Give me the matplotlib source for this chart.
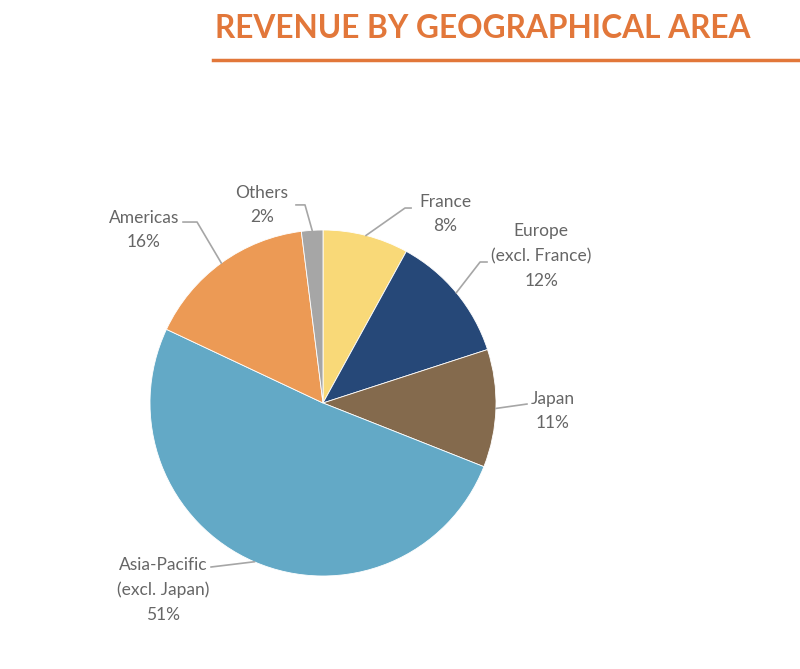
import numpy as np
import matplotlib
matplotlib.use('Agg')
import matplotlib.pyplot as plt

# data
regions = ['France', 'Europe\n(excl. France)', 'Japan', 'Asia-Pacific\n(excl. Japan)', 'Americas', 'Others']
shares = [8, 12, 11, 51, 16, 2]
colors = ['#F9D978', '#264878', '#846A4D', '#63A9C6', '#EC9A55', '#A6A6A6']

# label layout (data units, pie radius = 1): text centre, elbow, line end
label_pos = [(0.705, 1.092), (1.262, 0.850), (1.326, -0.046), (-0.925, -1.081), (-1.035, 1.000), (-0.353, 1.145)]
elbows = [(0.474, 1.127), (0.908, 0.815), (1.179, -0.006), (-0.647, -0.948), (-0.728, 1.046), (-0.104, 1.145)]
ends = [(0.509, 1.127), (0.948, 0.815), (1.179, -0.006), (-0.647, -0.948), (-0.809, 1.046), (-0.156, 1.145)]

txt_col = '#666666'
line_col = '#A6A6A6'
orange = '#E2773A'

fig = plt.figure(figsize=(8, 6.69), dpi=100)
fig.patch.set_facecolor('white')

# title + rule
fig.text(215 / 800, 1 - 29 / 669, 'REVENUE BY GEOGRAPHICAL AREA', color=orange,
         fontsize=22.8, fontweight='bold', family='Lato', ha='left', va='center')
fig.add_artist(plt.Line2D([213 / 800, 1.0], [1 - 60 / 669, 1 - 60 / 669], color=orange, lw=2.5))

ax = fig.add_axes([150 / 800, 93 / 669, 346 / 800, 346 / 669])
wedges, _ = ax.pie(shares, colors=colors, startangle=90, counterclock=False,
                   wedgeprops=dict(edgecolor='white', linewidth=0.6))
ax.set_xlim(-1, 1)
ax.set_ylim(-1, 1)
ax.set_aspect('equal')
ax.axis('off')

cum = np.cumsum([0] + shares)
total = float(sum(shares))
for i, name in enumerate(regions):
    mid = 90 - 360 * (cum[i] + shares[i] / 2.0) / total
    ex, ey = np.cos(np.radians(mid)), np.sin(np.radians(mid))
    xs = [ex, elbows[i][0], ends[i][0]]
    ys = [ey, elbows[i][1], ends[i][1]]
    ax.plot(xs, ys, color=line_col, lw=1.2, clip_on=False)
    ax.text(label_pos[i][0], label_pos[i][1], '%s\n%d%%' % (name, shares[i]),
            ha='center', va='center', color=txt_col, fontsize=12.5, family='Lato',
            linespacing=1.65, clip_on=False)

fig.savefig('out.png', dpi=100, facecolor='white')
